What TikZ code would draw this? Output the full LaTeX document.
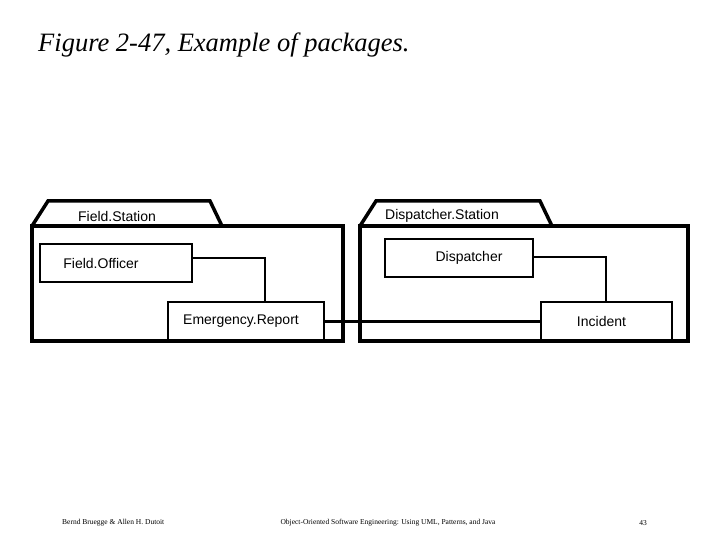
\documentclass[tikz,border=0pt]{standalone}
\usepackage{fontspec}
\setmainfont{Liberation Serif}
\newfontfamily\lab{Liberation Sans}
\begin{document}
\begin{tikzpicture}[x=1pt,y=-1pt,
  pkg/.style={draw,line width=3.5pt,line join=miter},
  cls/.style={draw,line width=2.2pt,minimum height=38pt,inner sep=0pt,font=\lab\fontsize{14}{16}\selectfont},
  lnk/.style={line width=2.2pt},
  txt/.style={font=\lab\fontsize{14}{16}\selectfont,inner sep=0pt},
  foot/.style={font=\fontsize{7.5}{9}\selectfont,inner sep=0pt}]
\useasboundingbox (0,0) rectangle (720,540);
\node[anchor=west,inner sep=0pt,font=\itshape\fontsize{26.5}{30}\selectfont] (title) at (38,45) {Figure 2-47, Example of packages.};
% packages
\draw[pkg] (32,226) -- (48,201) -- (210,201) -- (222,226);
\draw[pkg] (32,226) rectangle (343,341);
\draw[pkg] (360,226) -- (376,201) -- (540,201) -- (552,226);
\draw[pkg] (360,226) rectangle (688,341);
\node[txt] (fs) at (117,216) {Field.Station};
\node[txt] (ds) at (442,216) {Dispatcher.Station};
% classes
\node[cls,minimum width=152pt] (fo) at (116,263) {\raisebox{-2pt}{\hspace*{-30pt}Field.Officer}};
\node[cls,minimum width=148pt] (di) at (459,258) {\raisebox{-2pt}{\hspace*{20pt}Dispatcher}};
\node[cls,minimum width=156pt,minimum height=39pt] (er) at (246,321.5) {\raisebox{-2pt}{\hspace*{-10pt}Emergency.Report}};
\node[cls,minimum width=131pt,minimum height=39pt] (in) at (606.5,321.5) {\raisebox{-2pt}{\hspace*{-10pt}Incident}};
\draw[lnk] (fo.east |- 0,258) -- (265,258) -- (er.north -| 265,0);
\draw[lnk] (di.east |- 0,257) -- (606,257) -- (in.north -| 606,0);
\draw[lnk] (er.east) -- (in.west);
% footer
\node[foot,anchor=west] (f1) at (62,523) {Bernd Bruegge \& Allen H. Dutoit};
\node[foot] (f2) at (388,523) {Object-Oriented Software Engineering: Using UML, Patterns, and Java};
\node[foot] (f3) at (643,523) {43};
\end{tikzpicture}
\end{document}
